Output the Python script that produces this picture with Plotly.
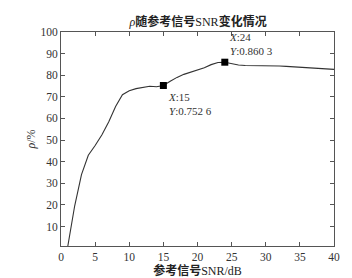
import plotly.graph_objects as go

snr = list(range(1, 41))
rho = [1.0, 19.5, 34, 43, 47.5, 52.5, 58.5, 65.5, 71, 72.8,
       73.8, 74.4, 74.9, 74.7, 75.26, 77.2, 79, 80.4, 81.4, 82.4,
       83.5, 84.9, 85.9, 86.03, 85.2, 84.7, 84.5, 84.5, 84.5, 84.5,
       84.5, 84.3, 84.1, 83.9, 83.8, 83.7, 83.5, 83.3, 83.0, 82.7]
mark_x = [15, 24]
mark_y = [75.26, 86.03]
mark_lbl = ["<i>X</i>:15<br><i>Y</i>:0.752 6", "<i>X</i>:24<br><i>Y</i>:0.860 3"]
xticks = [0, 5, 10, 15, 20, 25, 30, 35, 40]
yticks = [10, 20, 30, 40, 50, 60, 70, 80, 90, 100]

font = "Liberation Serif, Noto Sans CJK SC, serif"
fig = go.Figure()
fig.add_trace(go.Scatter(x=snr, y=rho, mode="lines",
                         line=dict(color="#333333", width=1.1), showlegend=False))
fig.add_trace(go.Scatter(x=mark_x, y=mark_y, mode="markers",
                         marker=dict(symbol="square", size=7, color="black"), showlegend=False))
fig.add_annotation(x=mark_x[0], y=mark_y[0], text=mark_lbl[0], showarrow=False,
                   xanchor="left", yanchor="top", xshift=3, yshift=-4, align="left",
                   font=dict(family=font, size=11, color="#333"))
fig.add_annotation(x=mark_x[1], y=mark_y[1], text=mark_lbl[1], showarrow=False,
                   xanchor="left", yanchor="bottom", xshift=2, yshift=3, align="left",
                   font=dict(family=font, size=11, color="#333"))

axis_common = dict(showline=True, linecolor="#555", linewidth=1, mirror="ticks",
                   ticks="inside", ticklen=4, tickcolor="#555", showgrid=False,
                   zeroline=False, automargin=False,
                   tickfont=dict(family=font, size=11.5, color="#333"))
fig.update_xaxes(range=[0, 40], tickvals=xticks, **axis_common,
                 title=dict(text="<b>参考信号</b>SNR/dB", font=dict(family=font, size=12, color="#222"), standoff=2))
fig.update_yaxes(range=[1, 100], tickvals=yticks, **axis_common,
                 title=dict(text="<i>ρ</i>/%", font=dict(family=font, size=12, color="#333"), standoff=2))
fig.update_layout(width=352, height=278, margin=dict(l=53, r=26, t=24, b=40),
                  paper_bgcolor="white", plot_bgcolor="white",
                  title=dict(text="<i>ρ</i><b>随参考信号</b>SNR<b>变化情况</b>", x=0.54, xanchor="center",
                             y=1 - 14 / 278, yanchor="middle", automargin=False,
                             font=dict(family=font, size=12, color="#222")))
fig.write_html("out.html")
